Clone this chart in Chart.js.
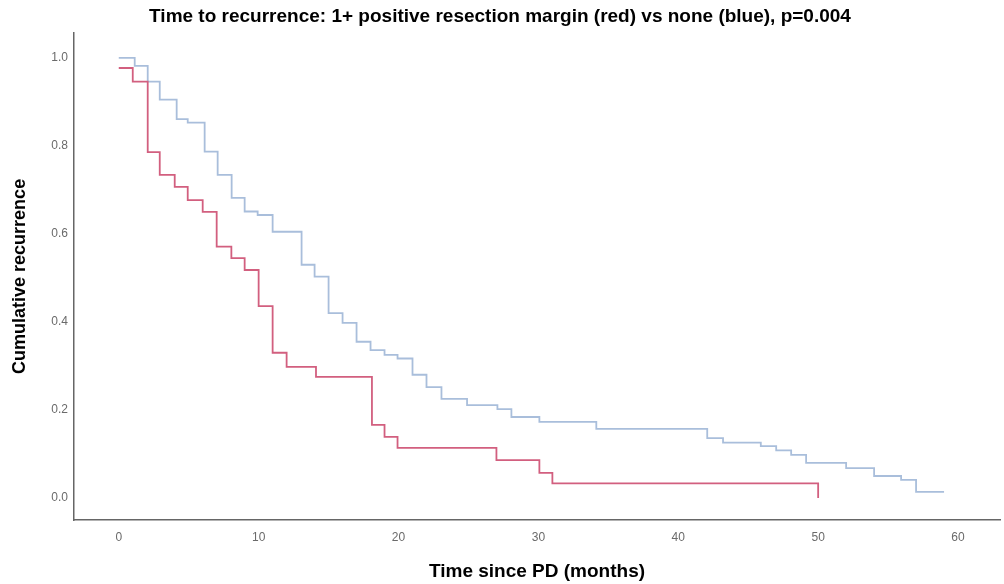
<!DOCTYPE html>
<html>
<head>
<meta charset="utf-8">
<script src="https://cdn.jsdelivr.net/npm/chart.js@4.4.1/dist/chart.umd.min.js"></script>
<style>
  html, body { margin: 0; padding: 0; background: #ffffff; }
  #wrap { width: 1004px; height: 584px; }
</style>
</head>
<body>
<div id="wrap"><canvas id="c" width="1004" height="584"></canvas></div>
<script>
// ---- data (months, cumulative proportion) ----
const redTimes  = [0, 1.0, 2.07, 2.93, 4.0, 4.93, 6.0, 7.0, 8.05, 9.0, 10.0, 11.0, 12.0, 14.1, 18.1, 19.0, 19.93, 27.0, 30.07, 31.0, 50.0];
const redValues = [0.977, 0.946, 0.786, 0.734, 0.707, 0.677, 0.65, 0.571, 0.545, 0.518, 0.436, 0.33, 0.298, 0.275, 0.166, 0.139, 0.114, 0.086, 0.057, 0.033, 0.0];

const blueTimes  = [0, 1.14, 2.07, 2.93, 4.14, 4.93, 6.14, 7.07, 8.07, 9.0, 9.93, 11.0, 13.07, 14.0, 15.0, 16.0, 17.0, 18.0, 19.0, 19.93, 21.0, 22.0, 23.07, 24.9, 27.07, 28.07, 30.07, 34.14, 42.07, 43.2, 45.9, 47.0, 48.07, 49.14, 52.0, 54.0, 55.93, 57.0, 59.0];
const blueValues = [1.0, 0.982, 0.946, 0.905, 0.861, 0.853, 0.787, 0.734, 0.682, 0.651, 0.643, 0.605, 0.53, 0.503, 0.42, 0.398, 0.355, 0.336, 0.325, 0.317, 0.28, 0.252, 0.225, 0.211, 0.202, 0.184, 0.173, 0.157, 0.136, 0.126, 0.118, 0.108, 0.098, 0.080, 0.068, 0.05, 0.041, 0.014, 0.014];

const xTickValues = [0, 10, 20, 30, 40, 50, 60];
const yTickValues = [0.0, 0.2, 0.4, 0.6, 0.8, 1.0];

const titleText = 'Time to recurrence: 1+ positive resection margin (red) vs none (blue), p=0.004';
const xTitle = 'Time since PD (months)';
const yTitle = 'Cumulative recurrence';

function toPoints(ts, vs) { return ts.map((t, i) => ({ x: t, y: vs[i] })); }

Chart.defaults.font.family = "'Liberation Sans', Arial, sans-serif";

new Chart(document.getElementById('c'), {
  type: 'scatter',
  data: {
    datasets: [
      {
        label: '1+ positive margin',
        data: toPoints(redTimes, redValues),
        showLine: true,
        stepped: 'before',
        borderColor: '#d25f7f',
        borderWidth: 1.8,
        pointRadius: 0,
        fill: false,
        order: 0
      },
      {
        label: 'none',
        data: toPoints(blueTimes, blueValues),
        showLine: true,
        stepped: 'before',
        borderColor: '#a9bedb',
        borderWidth: 1.8,
        pointRadius: 0,
        fill: false,
        order: 1
      }
    ]
  },
  options: {
    responsive: false,
    devicePixelRatio: 1,
    animation: false,
    layout: { padding: { left: 0, right: 4, top: 0, bottom: 0 } },
    plugins: {
      legend: { display: false },
      tooltip: { enabled: false },
      title: {
        display: true,
        text: titleText,
        color: '#000000',
        font: { size: 19, weight: 'bold' },
        padding: { top: 5, bottom: 5 }
      }
    },
    scales: {
      x: {
        type: 'linear',
        min: -3.2,
        max: 63,
        grid: { display: false, drawTicks: false },
        border: { display: true, color: '#666666', width: 1.5 },
        afterBuildTicks: (s) => { s.ticks = xTickValues.map(v => ({ value: v })); },
        afterFit: (s) => { s.height = 64; },
        ticks: {
          color: '#6a6a6a',
          font: { size: 12 },
          padding: 10,
          callback: (v) => String(v)
        },
        title: {
          display: true,
          text: xTitle,
          color: '#000000',
          font: { size: 19, weight: 'bold' },
          padding: { top: 0, bottom: 1 }
        }
      },
      y: {
        type: 'linear',
        min: -0.05,
        max: 1.057,
        grid: { display: false, drawTicks: false },
        border: { display: true, color: '#666666', width: 1.5 },
        afterBuildTicks: (s) => { s.ticks = yTickValues.map(v => ({ value: v })); },
        afterFit: (s) => { s.width = 74; },
        ticks: {
          color: '#6a6a6a',
          font: { size: 12 },
          padding: 6,
          callback: (v) => Number(v).toFixed(1)
        },
        title: {
          display: true,
          text: yTitle,
          color: '#000000',
          font: { size: 18, weight: 'bold' },
          padding: { top: 9, bottom: 0 }
        }
      }
    }
  }
});
</script>
</body>
</html>
